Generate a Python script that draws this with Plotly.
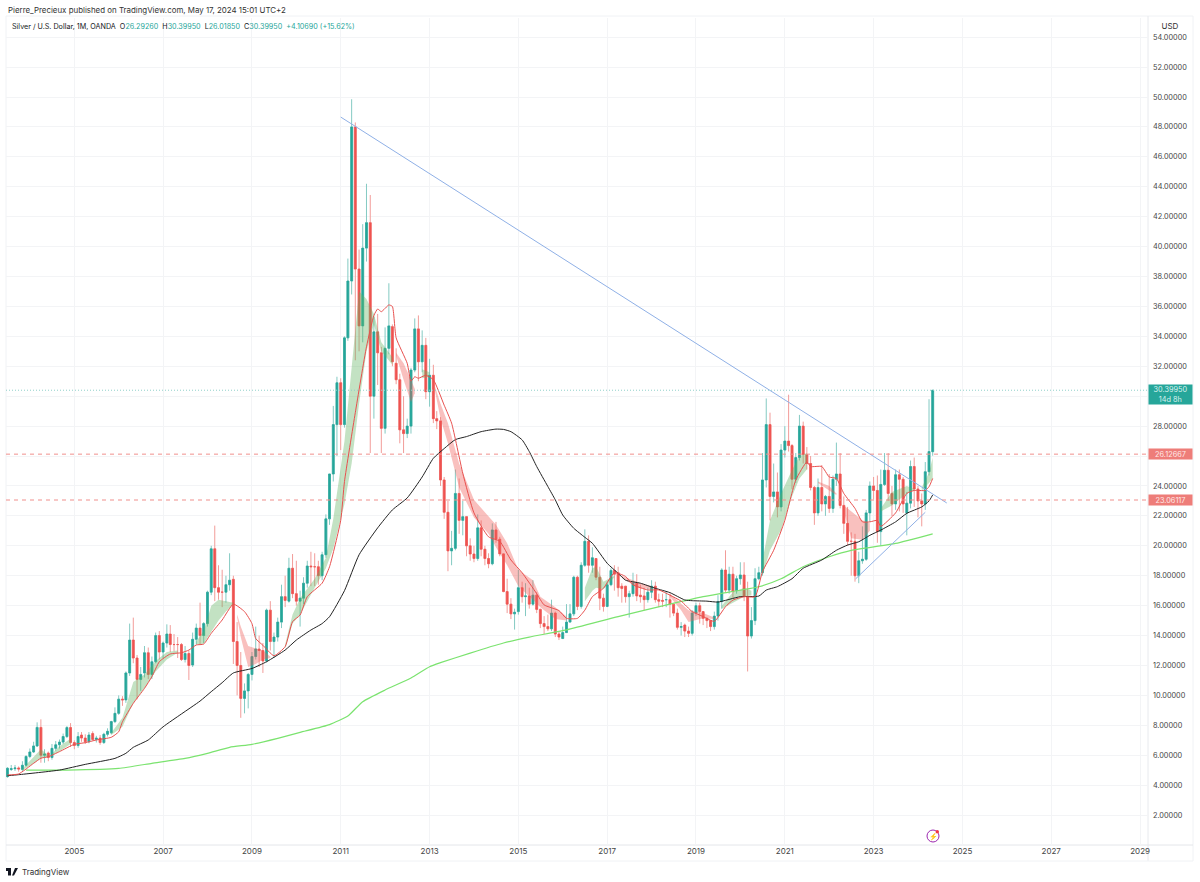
import pandas as pd
import plotly.graph_objects as go

# Monthly OHLC, Jul 2003 .. May 2024 (251 candles)
first_month = "2003-07-01"
open_ = [
 4.57,5.05,5.10,5.15,5.05,5.33,
 5.92,6.22,6.62,7.86,6.00,6.15,5.85,6.46,6.70,6.88,7.25,7.85,
 6.85,6.65,7.35,7.15,6.90,7.45,7.05,7.15,6.85,7.40,7.50,8.25,
 8.80,9.75,9.70,11.50,13.70,12.50,11.07,11.50,12.85,11.40,12.25,14.00,
 12.90,13.50,14.10,13.40,13.40,13.40,12.40,12.80,12.03,13.75,14.50,14.00,
 14.80,16.90,19.80,17.20,16.90,16.90,17.40,17.76,13.60,12.00,9.80,10.30,
 11.40,12.60,13.10,13.00,12.30,15.70,13.60,13.90,14.90,16.60,16.30,18.50,
 16.80,16.30,16.50,17.50,18.65,18.60,18.60,18.00,19.40,21.80,24.80,28.10,
 30.90,28.10,33.90,37.70,48.00,38.50,34.70,39.90,41.60,30.00,34.30,32.90,
 27.85,33.20,34.65,32.20,31.10,27.75,27.50,28.00,31.75,34.50,32.30,33.40,
 30.30,31.40,28.50,28.35,24.40,22.24,19.66,19.83,23.50,21.70,21.95,20.00,
 19.45,19.15,21.20,19.77,19.15,18.80,21.06,20.44,19.46,16.94,16.10,15.45,
 15.60,17.20,16.60,16.65,16.10,16.70,15.75,14.80,14.60,14.45,15.50,14.10,
 13.80,14.20,14.90,15.45,17.90,15.95,18.70,20.30,18.70,19.15,17.90,16.50,
 15.95,17.40,18.35,18.20,17.30,17.30,16.60,16.80,17.50,16.70,16.65,16.40,
 16.90,17.30,16.40,16.35,16.40,16.40,16.10,15.50,14.55,14.70,14.30,14.15,
 15.50,16.00,15.60,15.15,15.00,14.60,15.30,16.27,18.38,17.04,18.10,17.00,
 17.80,18.05,16.60,13.97,15.00,17.80,18.20,24.40,28.10,23.30,23.60,22.60,
 26.40,27.00,26.70,24.45,25.90,28.00,26.10,25.50,23.90,22.20,23.90,22.80,
 23.30,22.50,24.45,24.80,22.70,21.50,20.30,20.30,18.00,19.00,19.10,22.20,
 24.00,23.70,20.95,24.10,25.05,23.50,22.80,24.75,24.45,22.20,22.85,25.30,
 23.80,23.00,22.80,24.95,26.2926]
high = [
 5.20,5.35,5.35,5.25,5.60,6.00,
 6.45,6.90,8.20,8.40,6.40,6.25,6.75,6.95,7.05,7.45,7.95,8.15,
 7.00,7.55,7.55,7.40,7.55,7.60,7.30,7.35,7.50,7.80,8.30,9.20,
 10.00,9.95,11.60,14.80,15.20,12.70,11.90,13.30,13.20,12.60,14.20,14.30,
 13.60,14.75,14.70,14.10,13.90,13.50,13.30,13.00,14.20,14.80,16.20,14.90,
 17.00,20.00,21.35,18.70,18.40,18.00,19.50,18.00,14.90,12.90,10.80,11.50,
 12.90,14.60,14.00,13.50,15.80,16.30,14.20,15.20,17.40,18.00,19.20,19.45,
 19.00,17.00,17.90,19.00,19.60,19.50,19.00,19.60,22.10,24.80,29.35,31.30,
 31.20,34.00,39.20,49.85,48.30,39.80,41.50,44.20,43.45,35.30,35.50,33.30,
 34.60,37.55,34.80,33.20,31.50,30.00,28.50,31.90,35.20,35.40,34.40,33.90,
 32.50,32.10,29.00,28.60,24.60,23.00,21.00,25.10,24.50,23.00,21.90,20.50,
 20.00,22.10,21.70,20.00,19.50,21.50,21.60,20.60,19.50,17.80,16.50,15.80,
 18.40,17.60,17.50,17.20,17.70,16.90,15.80,15.30,15.40,16.40,15.60,14.30,
 14.60,16.10,16.10,18.00,18.00,18.90,21.10,20.70,19.90,19.10,18.60,16.80,
 17.60,18.50,18.70,18.60,17.50,17.30,17.00,18.20,18.10,17.40,17.20,17.20,
 17.70,17.60,16.80,16.80,16.90,16.80,16.10,15.80,14.90,14.80,14.60,15.70,
 16.20,16.20,15.60,15.20,14.90,15.60,16.70,18.50,19.70,18.60,18.60,18.00,
 18.90,18.90,17.60,15.90,18.50,18.60,26.20,29.85,28.90,25.50,24.90,26.80,
 28.00,30.10,26.80,26.20,28.75,28.30,26.60,26.00,24.00,24.50,25.40,23.40,
 24.80,24.70,26.90,26.20,23.30,22.60,20.90,20.80,19.60,21.30,22.40,24.30,
 24.60,24.70,25.10,26.20,26.20,24.00,25.10,25.10,24.60,23.60,25.70,25.90,
 24.00,23.50,25.60,29.80,30.3995]
low = [
 4.50,4.95,4.95,4.90,4.95,5.25,
 5.80,6.15,6.55,5.50,5.50,5.60,5.70,6.30,6.45,6.75,7.15,6.55,
 6.40,6.50,6.90,6.75,6.80,7.00,6.85,6.70,6.75,7.25,7.40,8.15,
 8.70,9.30,9.50,11.30,12.15,9.74,10.30,11.20,11.10,11.10,12.15,12.40,
 12.50,13.20,12.90,12.95,12.50,12.30,12.20,11.03,11.90,13.40,13.40,13.50,
 14.60,16.70,16.30,16.40,15.90,16.20,17.00,12.10,10.00,8.50,8.80,9.13,
 11.00,12.40,11.90,11.50,12.20,13.00,12.50,13.60,14.50,15.90,16.20,16.50,
 16.00,14.60,16.10,17.20,17.30,17.30,17.40,17.70,19.20,21.40,24.30,26.00,
 26.40,27.90,33.70,36.80,32.40,33.00,33.60,39.00,26.20,28.50,30.75,26.20,
 27.50,32.80,32.00,30.80,26.85,26.20,27.20,27.50,31.60,31.00,31.60,29.80,
 29.30,28.20,27.80,24.00,21.80,18.30,18.70,19.70,20.80,20.70,19.30,19.00,
 18.90,19.00,19.30,18.70,18.50,18.70,20.20,19.30,16.90,15.50,15.10,14.40,
 15.40,16.20,15.30,15.80,16.00,15.50,14.50,14.10,14.30,14.30,13.90,13.70,
 13.80,14.70,14.90,15.30,15.70,15.80,18.60,18.20,18.20,17.70,15.70,15.60,
 15.90,17.30,17.00,16.60,16.20,16.20,15.20,16.60,16.30,16.20,15.70,16.20,
 16.50,16.20,15.90,15.90,15.90,15.20,15.30,14.40,14.00,13.90,13.90,14.00,
 15.30,14.80,14.70,14.50,14.30,14.40,15.00,15.80,16.90,16.80,16.50,16.80,
 17.40,16.30,11.60,13.80,14.70,17.70,18.00,23.90,21.70,22.90,21.90,22.30,
 25.90,26.30,23.80,24.20,25.70,25.50,25.10,23.70,21.40,22.00,22.30,22.00,
 22.20,22.20,24.00,22.50,20.80,20.00,18.00,17.60,17.50,18.80,19.00,21.60,
 23.10,20.20,20.00,24.00,23.00,22.00,22.40,22.30,22.20,20.70,22.50,22.60,
 21.90,21.30,22.40,24.70,26.0185]
close = [
 5.13,5.10,5.15,5.08,5.33,5.92,
 6.22,6.62,7.86,6.00,6.08,5.85,6.46,6.70,6.88,7.25,7.85,6.85,
 6.65,7.25,7.15,6.90,7.35,7.05,7.15,6.85,7.40,7.60,8.25,8.80,
 9.75,9.70,11.50,13.70,12.50,11.07,11.40,12.85,11.40,12.25,14.00,12.90,
 13.50,14.10,13.40,13.40,13.40,12.40,12.80,12.00,13.75,14.50,14.00,14.80,
 16.90,19.80,17.20,16.90,16.90,17.40,17.70,13.60,12.00,9.80,10.30,11.40,
 12.60,13.10,13.00,12.30,15.70,13.60,13.90,14.90,16.60,16.35,18.50,16.80,
 16.30,16.50,17.50,18.65,18.60,18.60,18.00,19.40,21.80,24.80,28.10,30.90,
 28.10,33.90,37.70,48.00,38.50,34.70,39.90,41.60,30.00,34.30,32.90,27.85,
 33.20,34.70,32.30,31.10,27.75,27.50,28.00,31.75,34.50,32.30,33.40,30.30,
 31.40,28.50,28.35,24.40,22.24,19.66,19.83,23.50,21.70,21.95,20.00,19.45,
 19.15,21.20,19.77,19.15,18.80,21.06,20.44,19.46,16.94,16.10,15.45,15.56,
 17.20,16.60,16.65,16.10,16.70,15.75,14.80,14.60,14.45,15.50,14.10,13.90,
 14.20,14.90,15.45,17.90,15.95,18.70,20.30,18.70,19.20,17.90,16.50,15.95,
 17.40,18.35,18.10,17.20,17.15,16.60,16.80,17.50,16.65,16.60,16.40,16.90,
 17.30,16.40,16.30,16.30,16.40,16.10,15.50,14.55,14.60,14.30,14.15,15.50,
 16.00,15.60,15.15,15.00,14.60,15.30,16.27,18.38,17.04,18.10,16.93,17.80,
 18.05,16.60,13.97,15.00,17.80,18.20,24.40,28.10,23.30,23.60,22.60,26.40,
 27.00,26.70,24.45,25.90,28.00,26.10,25.50,23.90,22.20,23.90,22.80,23.30,
 22.50,24.45,24.80,22.70,21.50,20.30,20.30,18.00,19.00,19.10,22.20,24.00,
 23.70,20.95,24.10,25.05,23.50,22.80,24.75,24.45,22.80,22.85,25.30,23.80,
 23.00,22.80,24.95,26.30,30.3995]

# Moving averages: month number since Jul 2003, and the price read at it
red_idx = [0,3,7,9,11,14,18,21,24,28,30,31,34,37,39,41,44,47,49,51,53,55,58,61,64,66,67,69,72,75,77,79,81,85,87,90,91,94,97,99,100,101,103,104,105,108,109,110,111,113,115,118,120,123,126,130,133,136,139,143,145,149,151,154,156,158,161,164,167,169,173,176,179,182,185,188,191,194,196,199,202,204,207,210,213,216,217,220,222,224,226,229,231,233,235,236,240,243,245,248,249,250]
red_val = [4.68,4.75,5.46,5.80,5.90,6.24,6.73,6.84,7.02,7.20,7.57,8.24,9.47,10.47,11.25,12.25,12.77,12.85,13.03,13.37,13.43,14.15,15.04,16.10,15.60,14.80,13.80,13.35,12.65,13.26,14.93,15.37,16.60,17.50,18.60,21.70,24.30,28.90,33.30,35.40,35.83,35.65,36.10,36.00,33.90,32.20,31.00,31.30,31.20,31.40,31.10,29.40,28.20,24.85,22.20,20.60,20.30,19.05,18.20,16.80,16.05,15.67,15.15,15.15,15.70,16.60,17.16,18.20,17.95,17.40,17.05,17.05,16.70,16.30,15.60,15.27,14.95,15.93,16.37,16.60,16.60,18.27,19.70,21.70,24.40,25.60,25.30,25.30,24.60,24.50,23.50,22.50,21.60,21.60,21.70,21.30,22.20,23.50,23.70,23.70,23.95,24.50]
black_idx = [0,3,14,21,29,32,34,38,42,47,52,55,58,61,66,70,75,78,82,85,87,91,95,100,104,108,112,115,118,121,124,128,132,134,136,139,141,143,146,148,150,153,156,158,162,165,167,171,175,179,183,185,189,192,198,203,205,208,212,215,220,224,227,230,233,236,240,243,247,249,250]
black_val = [4.63,4.70,5.01,5.39,5.79,6.13,6.53,7.02,7.90,8.76,9.62,10.25,10.85,11.50,11.80,12.25,13.03,13.70,14.37,14.80,15.26,17.00,19.40,21.20,22.40,23.20,24.60,25.85,26.50,27.10,27.30,27.63,27.80,27.78,27.63,27.08,26.30,25.30,23.96,23.07,22.06,21.17,20.57,20.17,18.83,18.16,17.70,17.50,17.16,16.87,16.38,16.33,16.30,16.24,16.60,16.64,17.04,17.27,17.80,18.50,19.05,19.70,20.05,20.27,20.70,21.05,21.60,22.17,22.60,23.00,23.40]
green_idx = [5,16,30,39,48,54,60,66,73,79,87,92,96,102,109,114,117,125,134,141,151,165,179,188,193,203,209,215,222,228,240,250]
green_val = [5.01,5.01,5.12,5.46,5.79,6.13,6.53,6.73,7.13,7.53,8.05,8.62,9.58,10.36,11.16,11.92,12.19,12.83,13.50,13.90,14.38,15.27,16.10,16.60,16.82,17.26,17.80,18.60,19.27,19.70,20.16,20.80]

# Shaded ribbon: month numbers, upper edge, lower edge of each stretch
green_bands = [
 ([4,7,9,11],[5.10,5.90,6.40,6.00],[5.00,5.45,5.80,5.90]),
 ([12,14,17],[6.10,6.60,7.10],[6.00,6.25,6.75]),
 ([28,31,34,37,40,43,46],[7.50,8.50,10.90,11.40,12.30,12.90,13.00],[7.35,7.90,9.50,10.50,11.60,12.40,12.85]),
 ([51,53,55,57,59,61],[13.60,14.30,16.00,16.40,16.30,16.20],[13.40,13.45,14.20,15.00,15.60,16.10]),
 ([75,77,79,83,86,88,91,93,95,97,99,101,104],[13.40,15.40,16.50,17.80,19.20,21.80,27.00,32.00,37.00,36.50,35.50,33.60,32.60],[13.10,14.80,15.40,17.20,18.50,19.80,22.80,25.50,29.50,33.00,34.80,33.00,32.10]),
 ([112,114],[31.80,31.60],[31.20,31.30]),
 ([156,158,159,161,164],[17.20,18.50,18.60,17.60,18.00],[16.30,17.00,17.20,17.10,17.90]),
 ([193,196,199,201],[16.00,16.90,17.20,17.00],[15.80,16.20,16.60,16.70]),
 ([204,206,209,212,214,216],[19.00,21.70,23.50,25.07,26.00,26.20],[18.00,19.70,21.05,23.30,24.50,25.10]),
 ([236,239,243,245],[22.50,23.60,24.00,23.80],[22.30,22.70,23.50,23.70]),
 ([247,249,250],[23.90,24.90,25.90],[23.70,24.20,24.50]),
]
red_bands = [
 ([62,63,65,67,69,71],[15.40,14.60,13.30,13.15,13.00,12.60],[15.20,13.90,11.90,12.10,12.40,12.50]),
 ([105,107,109,110],[32.90,32.20,31.10,30.50],[32.70,31.10,29.60,30.20]),
 ([115,117,119,122,126,130,132,135,138,142,144,148,151],[31.00,29.50,28.19,25.50,23.07,21.95,21.40,20.17,18.40,17.70,16.60,15.90,15.27],[30.90,28.50,26.85,23.90,21.90,20.80,19.90,18.70,17.30,16.40,15.90,15.10,15.00]),
 ([166,170,174],[18.00,17.60,17.30],[17.90,17.20,17.10]),
 ([179,182,184,188,191],[16.80,16.15,15.70,15.50,15.20],[16.60,15.70,14.90,15.15,15.10]),
 ([219,222,224],[24.30,24.00,23.50],[24.20,23.70,23.40]),
 ([226,228,231,233],[22.70,22.30,21.70,21.50],[22.30,20.50,20.40,21.00]),
]

# Drawn trend lines and price levels
falling_x = ["2011-01-01","2024-08-25"]
falling_y = [48.66,22.86]
rising_x = ["2022-08-05","2024-03-01"]
rising_y = [17.78,22.24]
last_price = 30.3995
level_upper = 26.12667
level_lower = 23.06117
y_ticks = list(range(2,56,2))
y_tick_text = ["" if v in (26,30) else f"{v:.5f}" for v in y_ticks]

TEAL, RED = "#26a69a", "#ef5350"
months = pd.date_range(first_month, periods=len(close), freq="MS")
assert len(open_)==len(high)==len(low)==len(close)==251, (len(open_),len(high),len(low),len(close))

L, R, T, B = 6, 1148, 18, 845
def px(x): return (x-L)/(R-L)
def py(y): return (B-y)/(B-T)

fig = go.Figure()
for bands, col in ((green_bands,"rgba(96,180,96,0.38)"),(red_bands,"rgba(240,90,85,0.38)")):
    for idx, up, lo in bands:
        m = list(months[idx])
        fig.add_trace(go.Scatter(x=m+m[::-1], y=up+lo[::-1], mode="lines", line=dict(width=0),
                                 fill="toself", fillcolor=col, hoverinfo="skip", showlegend=False))
# wicks, pale
fig.add_trace(go.Candlestick(x=months, open=open_, high=high, low=low, close=close,
    increasing=dict(line=dict(color="#84cac3",width=1),fillcolor="rgba(0,0,0,0)"),
    decreasing=dict(line=dict(color="#f29c99",width=1),fillcolor="rgba(0,0,0,0)"),
    showlegend=False, whiskerwidth=0))
# bodies, solid
fig.add_trace(go.Candlestick(x=months, open=open_, close=close,
    high=[max(a,b) for a,b in zip(open_,close)], low=[min(a,b) for a,b in zip(open_,close)],
    increasing=dict(line=dict(color=TEAL,width=0.5),fillcolor=TEAL),
    decreasing=dict(line=dict(color=RED,width=0.5),fillcolor=RED),
    showlegend=False, whiskerwidth=0))
fig.add_trace(go.Scatter(x=months[green_idx], y=green_val, mode="lines", line=dict(color="#7be36f",width=1.2,shape="spline",smoothing=0.5), showlegend=False))
fig.add_trace(go.Scatter(x=months[black_idx], y=black_val, mode="lines", line=dict(color="#222222",width=1,shape="spline",smoothing=0.5), showlegend=False))
fig.add_trace(go.Scatter(x=months[red_idx], y=red_val, mode="lines", line=dict(color="#e8504e",width=1,shape="spline",smoothing=0.5), showlegend=False))
fig.add_trace(go.Scatter(x=falling_x, y=falling_y, mode="lines", line=dict(color="#8fb0e6",width=1), showlegend=False))
fig.add_trace(go.Scatter(x=rising_x, y=rising_y, mode="lines", line=dict(color="#8fb0e6",width=1), showlegend=False))

shapes = [
 dict(type="line",xref="paper",yref="y",x0=0,x1=1,y0=level_upper,y1=level_upper,line=dict(color="#f08f8c",width=1,dash="4px,4px")),
 dict(type="line",xref="paper",yref="y",x0=0,x1=1,y0=level_lower,y1=level_lower,line=dict(color="#f08f8c",width=1,dash="4px,4px")),
 dict(type="line",xref="paper",yref="y",x0=0,x1=1,y0=last_price,y1=last_price,line=dict(color="#8fd0c9",width=1,dash="1px,2px")),
]
def frame(x0,y0,x1,y1,color="#f0f2f5"):
    shapes.append(dict(type="line",xref="paper",yref="paper",x0=px(x0),x1=px(x1),y0=py(y0),y1=py(y1),line=dict(color=color,width=1),layer="below"))
frame(6,16,1193,16); frame(6,16,6,861); frame(1148,16,1148,861,"#e8eaee"); frame(1193,16,1193,861)
frame(6,845,1193,845,"#e4e6ea"); frame(6,861,1193,861)
# lightning badge
shapes.append(dict(type="circle",xref="paper",yref="paper",x0=px(927),x1=px(939),y0=py(842),y1=py(830),line=dict(color="#9c27b0",width=1),fillcolor="white"))
shapes.append(dict(type="circle",xref="paper",yref="paper",x0=px(935.5),x1=px(939),y0=py(833.5),y1=py(830),line=dict(width=0),fillcolor="#f23645"))
# TradingView mark
shapes.append(dict(type="rect",xref="paper",yref="paper",x0=px(6),x1=px(11),y0=py(871),y1=py(868),line=dict(width=0),fillcolor="#131722"))
shapes.append(dict(type="rect",xref="paper",yref="paper",x0=px(8),x1=px(11),y0=py(875.5),y1=py(868),line=dict(width=0),fillcolor="#131722"))
shapes.append(dict(type="path",xref="paper",yref="paper",
    path=f"M {px(14)} {py(875.5)} L {px(18)} {py(868)} L {px(15)} {py(868)} L {px(12)} {py(875.5)} Z",line=dict(width=0),fillcolor="#131722"))

FONT = "Inter, Liberation Sans, sans-serif"
def note(x,y,text,size=8,color="#131722",anchor="left",**kw):
    return dict(xref="paper",yref="paper",x=px(x),y=py(y),text=text,showarrow=False,xanchor=anchor,yanchor="middle",
                font=dict(family=FONT,size=size,color=color),**kw)
def g(s): return f'<span style="color:{TEAL}">{s}</span>'
SP = "\u00a0"
annotations = [
 note(6,10,"Pierre_Precieux published on TradingView.com, May 17, 2024 15:01 UTC+2",size=7.9,color="#333333"),
 note(10,27,"Silver / U.S. Dollar, 1M, OANDA"+SP+SP+"O"+g("26.29260")+SP+SP+"H"+g("30.39950")+SP+SP+"L"+g("26.01850")+SP+SP+"C"+g("30.39950")+SP+SP+g("+4.10690 (+15.62%)"),size=7.2),
 note(1170,26,"USD",size=8,color="#333333",anchor="center",bgcolor="white",borderpad=2,width=36),
 note(1170,394,"30.39950<br>14d 8h",size=7.3,color="#d8f2ef",anchor="center",bgcolor=TEAL,width=43,height=19,borderpad=0),
 note(1170,454,"26.12667",size=7.3,color="#ffe9e8",anchor="center",bgcolor="#ee7d79",width=43,height=10,borderpad=0),
 note(1170,499.5,"23.06117",size=7.3,color="#ffe9e8",anchor="center",bgcolor="#ee7d79",width=43,height=10,borderpad=0),
 note(933,836,"⚡",size=7,color="#9c27b0",anchor="center"),
 note(20,872,"TradingView",size=8,color="#333333"),
]

fig.update_layout(
    width=1200, height=882, margin=dict(l=L,r=1200-R,t=T,b=882-B),
    paper_bgcolor="white", plot_bgcolor="white", showlegend=False, boxgap=0.2,
    shapes=shapes, annotations=annotations, font=dict(family=FONT,size=8,color="#444444"),
    xaxis=dict(type="date",range=["2003-06-19","2029-03-07"],rangeslider=dict(visible=False),
               tick0="2005-01-01",dtick="M24",tickformat="%Y",ticks="",showline=False,
               gridcolor="#f3f4f6",gridwidth=1,zeroline=False,tickfont=dict(size=8,color="#444444")),
    yaxis=dict(range=[0,(B-T)/14.96],side="right",tickvals=y_ticks,ticktext=y_tick_text,ticks="",showline=False,
               ticklabelstandoff=4,gridcolor="#f3f4f6",gridwidth=1,zeroline=False,tickfont=dict(size=7.3,color="#444444")),
)
fig.write_html("out.html", config=dict(displayModeBar=False), post_script="document.body.style.margin='0';")
